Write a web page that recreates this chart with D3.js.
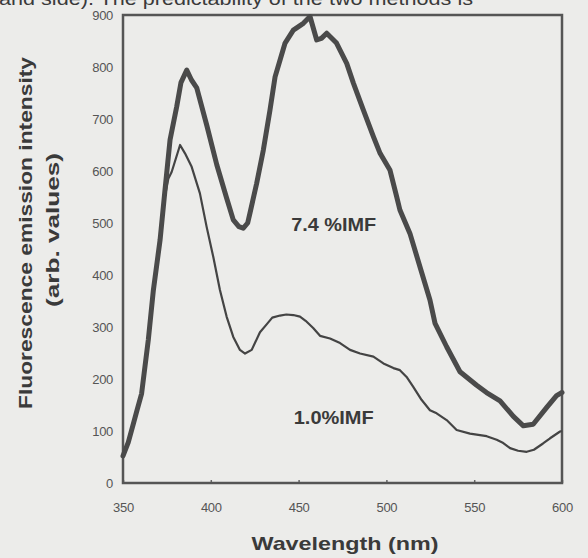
<!DOCTYPE html>
<html>
<head>
<meta charset="utf-8">
<script src="https://cdn.jsdelivr.net/npm/d3@7"></script>
<style>
  html, body { margin: 0; padding: 0; background: #ececea; }
  svg { display: block; }
</style>
</head>
<body>
<div id="chart"></div>
<script>
// wavelength (nm) / intensity
const imf74Wavelength = [350, 353, 356, 358, 360.6, 362, 364.4, 367.3, 371.1, 373.9, 376.8, 380.6, 383, 386.3, 389, 392,
  397.7, 403.4, 409, 412.8, 416, 418.5, 421, 422.3, 426.1, 429.9, 433.7, 436.6, 439.4, 442.3, 447, 452.7, 456.5,
  460.3, 463, 466, 471.6, 477.4, 481.2, 486.9, 492.6, 496.4, 502, 505.8, 507.7, 513.4, 519.1, 524.8, 527.7, 534.3,
  541.9, 551.4, 557, 564.7, 572.3, 578, 583.6, 591.2, 596.9, 600];
const imf74Intensity = [52, 78, 115, 140, 172, 210, 275, 371, 467, 563, 660, 724, 770, 794, 775, 760,
  688, 612, 548, 506, 493, 490, 500, 519, 576, 640, 717, 781, 813, 846, 871, 884, 897,
  852, 855, 865, 846, 807, 769, 717, 666, 634, 602, 551, 525, 480, 416, 352, 307, 262,
  214, 188, 174, 158, 128, 110, 113, 145, 168, 174];

const imf10Wavelength = [350, 353, 356, 358, 360.6, 362, 364.4, 367.3, 371.1, 373.9, 375.8, 377.7, 379, 382.5,
  385.3, 389.1, 393.8, 397.6, 401.4, 405.2, 409, 412.8, 416.6, 419.5, 423.3, 428, 431.8, 435, 439.4, 443, 447,
  450.8, 454, 458.3, 462.2, 467.9, 473.6, 479.3, 485, 492.6, 498.3, 504, 507.7, 511.5, 515.3, 520, 524.8,
  528.6, 534.3, 540, 547.6, 553.3, 557.1, 562.8, 566, 570.4, 575, 579.9, 584, 589.2, 593.2, 598.9, 600];
const imf10Intensity = [50, 76, 112, 137, 168, 205, 268, 362, 458, 552, 585, 598, 612, 650,
  634, 608, 557, 493, 435, 371, 320, 281, 256, 249, 256, 290, 305, 318, 322, 324, 323,
  320, 312, 298, 283, 278, 269, 256, 249, 243, 230, 221, 217, 204, 185, 160, 140,
  134, 121, 102, 95, 92, 90, 83, 78, 67, 62, 60, 64, 76, 86, 99, 100];

const xTicks = [350, 400, 450, 500, 550, 600];
const yTicks = [0, 100, 200, 300, 400, 500, 600, 700, 800, 900];

const margin = { top: 15, right: 26, bottom: 75, left: 123 },
  width = 588 - margin.left - margin.right,
  height = 558 - margin.top - margin.bottom;

const root = d3.select("#chart").append("svg")
  .attr("width", 588)
  .attr("height", 558);

// stray line of body text from the scanned page (top is cut off in the scan)
root.append("text")
  .attr("x", -1).attr("y", 5)
  .attr("textLength", 474).attr("lengthAdjust", "spacingAndGlyphs")
  .style("font-family", "Liberation Sans, Arial, sans-serif")
  .style("font-size", "19px")
  .style("fill", "#3a3a3a")
  .text("and side). The predictability of the two methods is");

const svg = root.append("g")
  .attr("transform", `translate(${margin.left}, ${margin.top})`);

const x = d3.scaleLinear().domain([350, 600]).range([0, width]);
const y = d3.scaleLinear().domain([0, 900]).range([height, 0]);

// Axes
const xAxis = svg.append("g")
  .attr("transform", `translate(0, ${height})`)
  .call(d3.axisBottom(x).tickValues(xTicks).tickSize(-3).tickPadding(20));
const yAxis = svg.append("g")
  .call(d3.axisLeft(y).tickValues(yTicks).tickSize(0).tickPadding(10));

[xAxis, yAxis].forEach(a => {
  a.select(".domain").remove();
  a.selectAll("line").attr("stroke", "#666").attr("stroke-width", 1.5);
  a.selectAll("text")
    .style("font-family", "Liberation Sans, Arial, sans-serif")
    .style("font-size", "13px")
    .style("letter-spacing", "-0.3px")
    .style("fill", "#555");
});

// Frame
svg.append("rect")
  .attr("x", 0).attr("y", 0)
  .attr("width", width).attr("height", height)
  .attr("fill", "none")
  .attr("stroke", "#555")
  .attr("stroke-width", 2.5);

const line = d3.line()
  .x(d => x(d[0]))
  .y(d => y(d[1]));

svg.append("path")
  .datum(d3.zip(imf10Wavelength, imf10Intensity))
  .attr("d", line)
  .attr("fill", "none")
  .attr("stroke", "#444")
  .attr("stroke-width", 2.2)
  .attr("stroke-linejoin", "round");

svg.append("path")
  .datum(d3.zip(imf74Wavelength, imf74Intensity))
  .attr("d", line)
  .attr("fill", "none")
  .attr("stroke", "#4a4a4a")
  .attr("stroke-width", 5)
  .attr("stroke-linejoin", "round")
  .attr("stroke-linecap", "round");

// Curve labels
const curveLabels = [
  { text: "7.4 %IMF", wl: 470, v: 485, len: 85 },
  { text: "1.0%IMF", wl: 470, v: 113, len: 80 }
];
svg.selectAll(".curve-label")
  .data(curveLabels)
  .join("text")
  .attr("class", "curve-label")
  .attr("x", d => x(d.wl))
  .attr("y", d => y(d.v))
  .attr("text-anchor", "middle")
  .attr("textLength", d => d.len)
  .attr("lengthAdjust", "spacingAndGlyphs")
  .style("font-family", "Liberation Sans, Arial, sans-serif")
  .style("font-weight", "bold")
  .style("font-size", "18px")
  .style("fill", "#3a3a3a")
  .text(d => d.text);

// Axis titles
root.append("text")
  .attr("x", 345).attr("y", 550)
  .attr("text-anchor", "middle")
  .attr("textLength", 187).attr("lengthAdjust", "spacingAndGlyphs")
  .style("font-family", "Liberation Sans, Arial, sans-serif")
  .style("font-weight", "bold")
  .style("font-size", "19px")
  .style("fill", "#3a3a3a")
  .text("Wavelength (nm)");

const yTitle = [
  { text: "Fluorescence emission intensity", cx: 32, cy: 233, len: 352 },
  { text: "(arb. values)", cx: 59, cy: 230, len: 154 }
];
root.selectAll(".y-title")
  .data(yTitle)
  .join("text")
  .attr("class", "y-title")
  .attr("transform", d => `translate(${d.cx}, ${d.cy}) rotate(-90)`)
  .attr("text-anchor", "middle")
  .attr("textLength", d => d.len)
  .attr("lengthAdjust", "spacingAndGlyphs")
  .style("font-family", "Liberation Sans, Arial, sans-serif")
  .style("font-weight", "bold")
  .style("font-size", "19px")
  .style("fill", "#3a3a3a")
  .text(d => d.text);
</script>
</body>
</html>
